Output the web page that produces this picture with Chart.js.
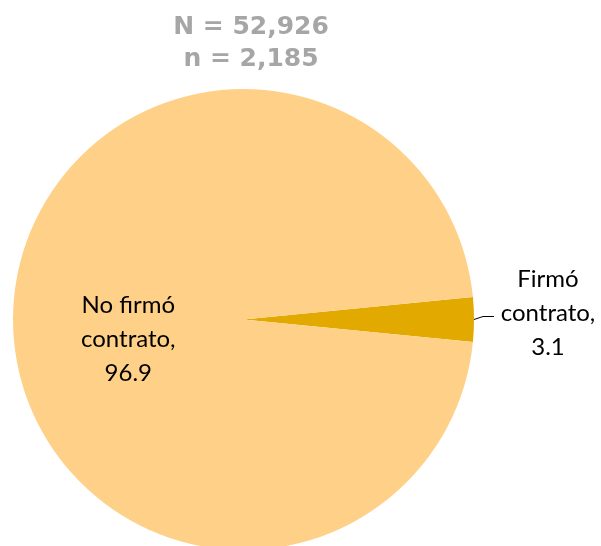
<!DOCTYPE html>
<html>
<head>
<meta charset="utf-8">
<script src="https://cdn.jsdelivr.net/npm/chart.js@4/dist/chart.umd.min.js"></script>
<style>
  html, body { margin: 0; padding: 0; background: #fff; overflow: hidden; }
  #wrap { width: 601px; height: 560px; position: relative; }
</style>
</head>
<body>
<div id="wrap"><canvas id="chart"></canvas></div>
<script>
const categories = ['Firmó contrato', 'No firmó contrato'];
const values = [3.1, 96.9];
const sliceColors = ['#E2A900', '#FFD188'];
const titleLines = ['N = 52,926', 'n = 2,185'];

// first slice centred on 3 o'clock
const startRotation = 90 - values[0] * 3.6 / 2;

const labelPlugin = {
  id: 'pieLabels',
  afterDatasetsDraw(chart) {
    const ctx = chart.ctx;
    ctx.save();
    // title
    ctx.fillStyle = '#A6A6A6';
    ctx.font = 'bold 25px "DejaVu Sans"';
    ctx.textAlign = 'center';
    ctx.textBaseline = 'middle';
    ctx.fillText(titleLines[0], 251, 27);
    ctx.fillText(titleLines[1], 251, 59);

    ctx.font = '24px Lato';
    ctx.fillStyle = '#000';
    const arcs = chart.getDatasetMeta(0).data;
    arcs.forEach((arc, i) => {
      const p = arc.getProps(['x', 'y', 'startAngle', 'endAngle', 'outerRadius']);
      const mid = (p.startAngle + p.endAngle) / 2;
      const words = categories[i].split(' ');
      const lines = [words[0] === 'No' ? 'No ' + words[1] : words[0], words[words.length - 1] + ',', String(values[i])];
      let lx, ly;
      if (i === 1) {
        lx = p.x + Math.cos(mid) * p.outerRadius * 0.5;
        ly = p.y + Math.sin(mid) * p.outerRadius * 0.5 + 20;
      } else {
        const ex = p.x + Math.cos(mid) * p.outerRadius;
        const ey = p.y + Math.sin(mid) * p.outerRadius;
        ctx.strokeStyle = '#000';
        ctx.lineWidth = 1;
        ctx.beginPath();
        ctx.moveTo(ex, ey);
        ctx.lineTo(ex + 9, ey - 3);
        ctx.lineTo(ex + 20, ey - 3);
        ctx.stroke();
        lx = ex + 74;
        ly = ey - 6;
      }
      lines.forEach((t, k) => ctx.fillText(t, lx, ly + (k - 1) * 34));
    });
    ctx.restore();
  }
};

new Chart(document.getElementById('chart'), {
  type: 'pie',
  data: {
    labels: categories,
    datasets: [{
      data: values,
      backgroundColor: sliceColors,
      borderWidth: 0
    }]
  },
  options: {
    responsive: true,
    maintainAspectRatio: false,
    animation: false,
    rotation: startRotation,
    layout: { padding: { left: 13, right: 127, top: 89, bottom: 10 } },
    plugins: {
      legend: { display: false },
      tooltip: { enabled: false },
      title: { display: false }
    }
  },
  plugins: [labelPlugin]
});
</script>
</body>
</html>
